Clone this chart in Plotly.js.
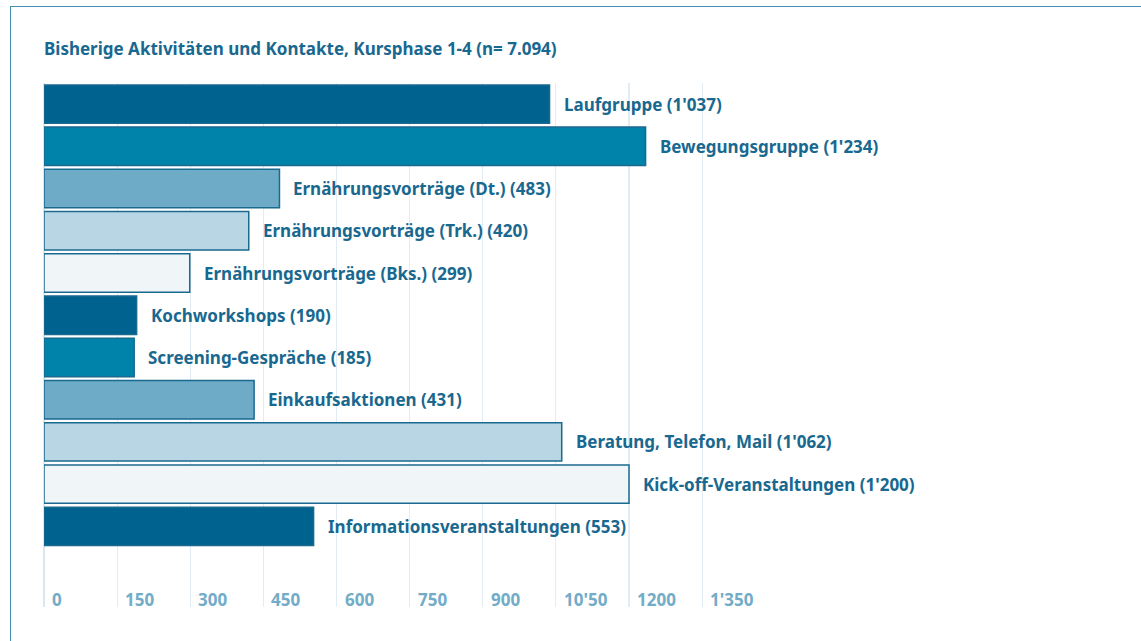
<!DOCTYPE html>
<html>
<head>
<meta charset="utf-8">
<script src="https://cdn.plot.ly/plotly-3.0.1.min.js"></script>
<style>
  html, body { margin: 0; padding: 0; background: #ffffff; }
  #wrap { position: relative; width: 1141px; height: 641px; overflow: hidden; }
  #chart { width: 1141px; height: 641px; }
  #frame { position: absolute; left: 10px; top: 6px; width: 1200px; height: 700px;
           border-top: 1.5px solid #3f90b2; border-left: 1.5px solid #3f90b2; pointer-events: none; }
</style>
</head>
<body>
<div id="wrap">
  <div id="chart"></div>
  <div id="frame"></div>
</div>
<script>
const categories = [
  "Laufgruppe", "Bewegungsgruppe", "Ernährungsvorträge (Dt.)", "Ernährungsvorträge (Trk.)",
  "Ernährungsvorträge (Bks.)", "Kochworkshops", "Screening-Gespräche", "Einkaufsaktionen",
  "Beratung, Telefon, Mail", "Kick-off-Veranstaltungen", "Informationsveranstaltungen"
];
const values = [1037, 1234, 483, 420, 299, 190, 185, 431, 1062, 1200, 553];
const valueLabels = ["1'037", "1'234", "483", "420", "299", "190", "185", "431", "1'062", "1'200", "553"];
const tickValues = [0, 150, 300, 450, 600, 750, 900, 1050, 1200, 1350];
const tickLabels = ["0", "150", "300", "450", "600", "750", "900", "10'50", "1200", "1'350"];
const palette = ["#00628e", "#0083aa", "#6eabc7", "#b8d6e3", "#f0f5f8"];
const titleText = "Bisherige Aktivitäten und Kontakte, Kursphase 1-4 (n= 7.094)";

const FONT = "Noto Sans, Open Sans, sans-serif";
const textColor = "#19688f";

const barColors = categories.map((c, i) => palette[i % palette.length]);

const trace = {
  type: "bar",
  orientation: "h",
  x: values,
  y: categories,
  marker: { color: barColors, line: { color: "#1a6a90", width: 1.5 } },
  hoverinfo: "skip"
};

const annotations = [];
categories.forEach((c, i) => {
  annotations.push({
    x: values[i], y: c, xref: "x", yref: "y",
    text: "<b>" + c + " (" + valueLabels[i] + ")</b>",
    showarrow: false, xanchor: "left", yanchor: "middle", xshift: 12,
    font: { family: FONT, size: 17, color: textColor }
  });
});
tickValues.forEach((v, i) => {
  annotations.push({
    x: v, y: (641 - 599 - 34) / (607 - 83), xref: "x", yref: "paper",
    text: "<b>" + tickLabels[i] + "</b>",
    showarrow: false, xanchor: "left", yanchor: "middle", xshift: 6,
    font: { family: FONT, size: 17, color: "#72acc8" }
  });
});

const layout = {
  width: 1141, height: 641,
  margin: { l: 44, r: 122, t: 83, b: 34 },
  paper_bgcolor: "#ffffff", plot_bgcolor: "#ffffff",
  showlegend: false,
  bargap: 0.09,
  title: {
    text: "<b>" + titleText + "</b>",
    x: 0, xref: "paper", xanchor: "left",
    y: 1 - 49 / 641, yref: "container", yanchor: "middle",
    font: { family: FONT, size: 17, color: textColor }
  },
  xaxis: {
    range: [0, 2000],
    tickvals: tickValues,
    showticklabels: false,
    showgrid: true, gridcolor: "#e2ecf4", gridwidth: 1.2,
    zeroline: true, zerolinecolor: "#dbe7f0", zerolinewidth: 1.2,
    showline: false, ticks: "", fixedrange: true
  },
  yaxis: {
    type: "category",
    range: [11.91, -0.5],
    showticklabels: false, showgrid: false, zeroline: false,
    showline: false, ticks: "", fixedrange: true
  },
  annotations: annotations
};

Plotly.newPlot("chart", [trace], layout, { displayModeBar: false, staticPlot: true });
</script>
</body>
</html>
